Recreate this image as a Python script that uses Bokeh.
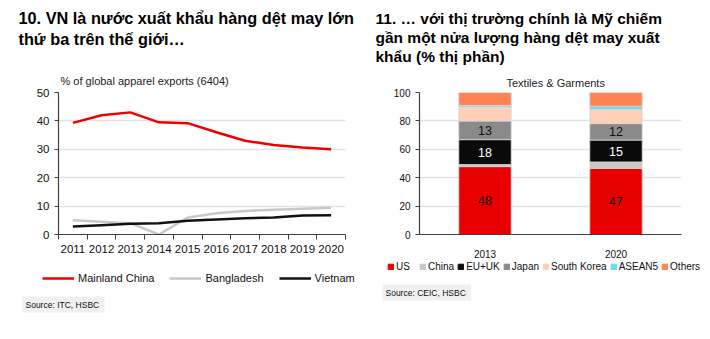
from bokeh.plotting import figure
from bokeh.layouts import row, column
from bokeh.models import (FixedTicker, Legend, LegendItem, ColumnDataSource,
                          FactorRange, LabelSet, Range1d, Label, Title)
from bokeh.core.properties import value
from bokeh.embed import file_html
from bokeh.resources import INLINE

# ---------------- data ----------------
years = [2011, 2012, 2013, 2014, 2015, 2016, 2017, 2018, 2019, 2020]
china_share = [39.3, 42.0, 43.0, 39.5, 39.2, 36.0, 33.0, 31.5, 30.6, 30.0]
bangladesh_share = [5.0, 4.5, 4.0, 0.0, 6.0, 7.5, 8.3, 8.7, 9.1, 9.4]
vietnam_share = [2.8, 3.3, 3.8, 4.0, 4.8, 5.3, 5.7, 6.0, 6.7, 6.8]
line_labels = ["Mainland China", "Bangladesh", "Vietnam"]
y_ticks_left = [0, 10, 20, 30, 40, 50]

bar_years = ["2013", "2020"]
markets = ["US", "China", "EU+UK", "Japan", "South Korea", "ASEAN5", "Others"]
us = [47.8, 46.6]
cn = [1.5, 4.5]
euuk = [17.5, 15.4]
japan = [13.1, 11.6]
skorea = [9.9, 10.0]
asean5 = [1.1, 2.3]
others = [9.1, 9.6]
y_ticks_right = [0, 20, 40, 60, 80, 100]

FONT = "Liberation Sans"
AX = "#404040"
LINE_COLORS = ["#ee0000", "#c8c8c8", "#111111"]
BAR_COLORS = ["#e80000", "#c8c8c8", "#0a0a0a", "#8a8a8a", "#ffcfb8", "#66dcf5", "#ff8355"]
W = 710


def blank(w, h, xr=None, yr=None):
    f = figure(width=w, height=h, output_backend="svg", toolbar_location=None,
               x_range=xr if xr is not None else Range1d(0, 1),
               y_range=yr if yr is not None else Range1d(0, 1),
               x_axis_location=None, y_axis_location=None,
               min_border=0, min_border_left=0, min_border_right=0,
               min_border_top=0, min_border_bottom=0)
    f.outline_line_color = None
    f.grid.visible = False
    return f


def text(f, x, y, s, size, bold=False, align="left", color="#000000", **kw):
    f.add_layout(Label(x=x, y=y, x_units="screen", y_units="screen", text=s,
                       text_font=FONT, text_font_size=size,
                       text_font_style="bold" if bold else "normal",
                       text_align=align, text_baseline="middle", text_color=color, **kw))


# ================= header (both titles) =================
hdr = blank(W, 66)
text(hdr, 18, 49, "10. VN là nước xuất khẩu hàng dệt may lớn", "16.3px", bold=True)
text(hdr, 18, 28, "thứ ba trên thế giới…", "16.3px", bold=True)
text(hdr, 375, 48.5, "11. … với thị trường chính là Mỹ chiếm", "15.5px", bold=True)
text(hdr, 375, 29, "gần một nửa lượng hàng dệt may xuất", "15.5px", bold=True)
text(hdr, 375, 10, "khẩu (% thị phần)", "15.5px", bold=True)

# ================= left chart =================
p1 = figure(width=363, height=194, output_backend="svg", toolbar_location=None,
            x_range=Range1d(2010.5, 2020.5), y_range=Range1d(0, 50),
            min_border_left=58, min_border_right=18, min_border_top=26,
            min_border_bottom=23)
p1.outline_line_color = None
p1.xgrid.grid_line_color = None
p1.ygrid.grid_line_color = "#e3e3e3"
p1.ygrid.grid_line_width = 1.5
series = [china_share, bangladesh_share, vietnam_share]
for s, c in zip(series, LINE_COLORS):
    p1.line(years, s, line_color=c, line_width=2.5)

p1.xaxis.ticker = FixedTicker(ticks=years,
                              minor_ticks=[y - 0.5 for y in years] + [years[-1] + 0.5])
p1.xaxis.minor_tick_out = 5
p1.xaxis.minor_tick_in = 0
p1.xaxis.minor_tick_line_color = AX
p1.yaxis.ticker = FixedTicker(ticks=y_ticks_left)
p1.yaxis.major_tick_out = 4
p1.yaxis.major_tick_in = 0
p1.yaxis.minor_tick_line_color = None
for ax in (p1.xaxis, p1.yaxis):
    ax.axis_line_color = AX
    ax.axis_line_width = 1.2
    ax.major_label_text_font = FONT
    ax.major_label_text_font_size = "11.5px"
    ax.major_label_text_color = "#111111"
p1.xaxis.major_tick_line_color = None
p1.yaxis.major_tick_line_color = AX
p1.xaxis.major_label_standoff = 4
p1.yaxis.major_label_standoff = 5
p1.add_layout(Title(text="% of global apparel exports (6404)", align="left", offset=2,
                    text_font=FONT, text_font_size="11px", text_font_style="normal",
                    text_color="#222222", standoff=11), "above")

# ================= right chart =================
src = ColumnDataSource(dict(year=bar_years, yr=[int(y) for y in bar_years],
                            US=us, China=cn, EUUK=euuk, Japan=japan,
                            SKorea=skorea, ASEAN5=asean5, Others=others))
cols = ["US", "China", "EUUK", "Japan", "SKorea", "ASEAN5", "Others"]

p2 = figure(width=347, height=194, output_backend="svg", toolbar_location=None,
            x_range=FactorRange(*bar_years, range_padding=0), y_range=Range1d(0, 100),
            min_border_left=56, min_border_right=29, min_border_top=21,
            min_border_bottom=23)
p2.outline_line_color = None
p2.xgrid.grid_line_color = None
p2.ygrid.grid_line_color = "#e3e3e3"
p2.ygrid.grid_line_width = 1.5
p2.vbar_stack(cols, x="year", width=0.4, source=src, color=BAR_COLORS,
              line_color="#d8d8d8", line_width=0.8)

p2.yaxis.ticker = FixedTicker(ticks=y_ticks_right)
p2.yaxis.major_tick_out = 4
p2.yaxis.major_tick_in = 0
p2.yaxis.minor_tick_line_color = None
for ax in (p2.xaxis, p2.yaxis):
    ax.axis_line_color = AX
    ax.axis_line_width = 1.2
    ax.major_label_text_font = FONT
    ax.major_label_text_font_size = "10px"
    ax.major_label_text_color = "#111111"
p2.xaxis.major_tick_line_color = None
p2.yaxis.major_tick_line_color = AX
p2.xaxis.major_label_standoff = 9
p2.yaxis.major_label_standoff = 5
p2.add_layout(Title(text="Textiles & Garments", align="left", offset=87,
                    text_font=FONT, text_font_size="11px", text_font_style="normal",
                    text_color="#222222", standoff=7), "above")

# segment value labels (US, EU+UK, Japan)
lab_x, lab_y, lab_t, lab_c = [], [], [], []
stack_cols = [us, cn, euuk, japan]
for i, yr in enumerate(bar_years):
    base = 0.0
    for k, vals in enumerate(stack_cols):
        v = vals[i]
        if k != 1:
            lab_x.append(yr)
            lab_y.append(base + v / 2)
            lab_t.append(str(int(round(v))))
            lab_c.append("#ffffff" if k == 2 else "#111111")
        base += v
lsrc = ColumnDataSource(dict(x=lab_x, y=lab_y, t=lab_t, c=lab_c))
p2.add_layout(LabelSet(x="x", y="y", text="t", source=lsrc, text_color="c",
                       text_align="center", text_baseline="middle",
                       text_font=value(FONT), text_font_size=value("12.5px")))

# ================= footer: legends (proxy renderers kept out of view) + sources =================
ftr = blank(W, 79, xr=Range1d(2030, 2031), yr=Range1d(150, 151))
items1 = []
for lab, s, c in zip(line_labels, series, LINE_COLORS):
    r = ftr.line(years, s, line_color=c, line_width=2.5)
    items1.append(LegendItem(label=lab, renderers=[r]))
ftr.add_layout(Legend(items=items1, orientation="horizontal", location=(42, 51),
                      glyph_width=32, glyph_height=12, label_standoff=4, spacing=15,
                      padding=0, margin=0, border_line_color=None,
                      background_fill_alpha=0, label_text_font=FONT,
                      label_text_font_size="11px", label_text_color="#111111",
                      label_height=20), "center")
rs = ftr.vbar_stack(cols, x="yr", width=0.4, source=src, color=BAR_COLORS)
ftr.add_layout(Legend(items=[LegendItem(label=m, renderers=[r]) for m, r in zip(markets, rs)],
                      orientation="horizontal", location=(387, 67),
                      glyph_width=7, glyph_height=7, label_standoff=2, spacing=3,
                      padding=0, margin=0, border_line_color=None,
                      background_fill_alpha=0, label_text_font=FONT,
                      label_text_font_size="10px", label_text_color="#111111",
                      label_height=12), "center")
text(ftr, 22, 35, "Source:  ITC, HSBC", "8.5px", color="#111111",
     background_fill_color="#f0f0f0", padding=3)
text(ftr, 382, 47, "Source:  CEIC, HSBC", "8.5px", color="#111111",
     background_fill_color="#f0f0f0", padding=3)

layout = column(hdr, row(p1, p2), ftr)
open("out.html", "w").write(file_html(layout, INLINE))
